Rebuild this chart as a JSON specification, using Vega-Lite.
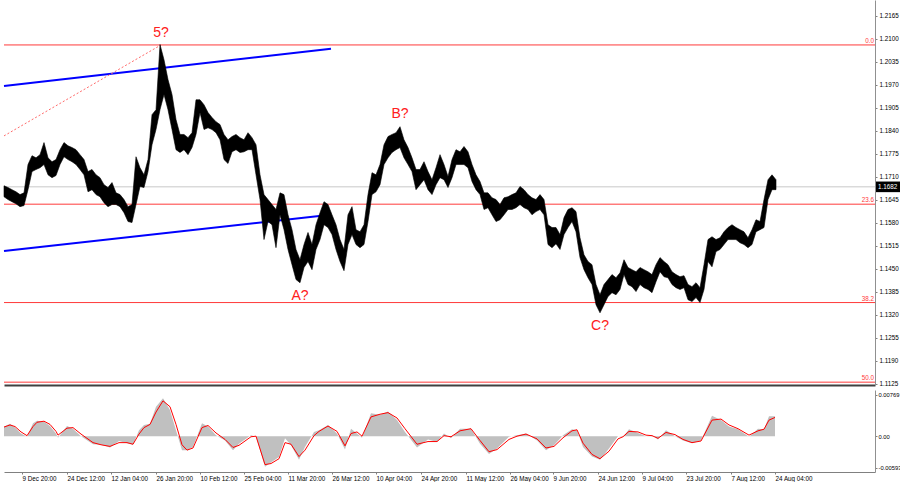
{
"$schema": "https://vega.github.io/schema/vega-lite/v6.json",
"padding": 0,
"background": "white",
"spacing": 2,
"config": {"view": {"stroke": null}, "font": "Liberation Sans",
  "axis": {"labelFont": "Liberation Sans", "labelFontSize": 6.3, "labelColor": "#000000", "domainColor": "#808080", "tickColor": "#808080", "grid": false, "title": null, "tickSize": 2},
  "axisY": {"labelOverlap": false}},
"datasets": {
"price": [
{"i":0,"h":1.1685,"l":1.1654},{"i":4,"h":1.1680,"l":1.1646},{"i":8,"h":1.1674,"l":1.1640},{"i":12,"h":1.1668,"l":1.1634},{"i":16,"h":1.1660,"l":1.1626},{"i":20,"h":1.1665,"l":1.1629},{"i":24,"h":1.1745,"l":1.1674},{"i":28,"h":1.1770,"l":1.1725},{"i":32,"h":1.1764,"l":1.1731},{"i":36,"h":1.1773,"l":1.1736},{"i":40,"h":1.1807,"l":1.1745},{"i":44,"h":1.1764,"l":1.1716},{"i":48,"h":1.1753,"l":1.1708},{"i":52,"h":1.1759,"l":1.1714},{"i":56,"h":1.1787,"l":1.1745},{"i":60,"h":1.1807,"l":1.1767},{"i":64,"h":1.1798,"l":1.1759},{"i":68,"h":1.1793,"l":1.1753},{"i":72,"h":1.1787,"l":1.1745},{"i":76,"h":1.1773,"l":1.1731},{"i":80,"h":1.1759,"l":1.1716},{"i":84,"h":1.1725,"l":1.1668},{"i":88,"h":1.1731,"l":1.1674},{"i":92,"h":1.1716,"l":1.1660},{"i":96,"h":1.1708,"l":1.1654},{"i":100,"h":1.1688,"l":1.1637},{"i":104,"h":1.1680,"l":1.1626},{"i":108,"h":1.1694,"l":1.1632},{"i":112,"h":1.1665,"l":1.1632},{"i":116,"h":1.1660,"l":1.1626},{"i":120,"h":1.1646,"l":1.1609},{"i":124,"h":1.1626,"l":1.1584},{"i":128,"h":1.1632,"l":1.1581},{"i":132,"h":1.1767,"l":1.1632},{"i":136,"h":1.1736,"l":1.1683},{"i":140,"h":1.1716,"l":1.1680},{"i":144,"h":1.1759,"l":1.1725},{"i":148,"h":1.1886,"l":1.1801},{"i":152,"h":1.1900,"l":1.1844},{"i":156,"h":1.2084,"l":1.1900},{"i":160,"h":1.2041,"l":1.1943},{"i":164,"h":1.1985,"l":1.1900},{"i":168,"h":1.1943,"l":1.1844},{"i":172,"h":1.1872,"l":1.1787},{"i":176,"h":1.1830,"l":1.1779},{"i":180,"h":1.1830,"l":1.1787},{"i":184,"h":1.1821,"l":1.1773},{"i":188,"h":1.1835,"l":1.1793},{"i":192,"h":1.1928,"l":1.1830},{"i":196,"h":1.1928,"l":1.1892},{"i":200,"h":1.1914,"l":1.1844},{"i":204,"h":1.1892,"l":1.1849},{"i":208,"h":1.1878,"l":1.1844},{"i":212,"h":1.1866,"l":1.1835},{"i":216,"h":1.1858,"l":1.1815},{"i":220,"h":1.1830,"l":1.1759},{"i":224,"h":1.1815,"l":1.1748},{"i":228,"h":1.1824,"l":1.1781},{"i":232,"h":1.1830,"l":1.1787},{"i":236,"h":1.1821,"l":1.1779},{"i":240,"h":1.1815,"l":1.1781},{"i":244,"h":1.1835,"l":1.1787},{"i":248,"h":1.1821,"l":1.1787},{"i":252,"h":1.1801,"l":1.1716},{"i":256,"h":1.1716,"l":1.1646},{"i":260,"h":1.1660,"l":1.1533},{"i":264,"h":1.1646,"l":1.1584},{"i":268,"h":1.1632,"l":1.1575},{"i":272,"h":1.1618,"l":1.1510},{"i":276,"h":1.1665,"l":1.1603},{"i":280,"h":1.1660,"l":1.1561},{"i":284,"h":1.1603,"l":1.1505},{"i":288,"h":1.1561,"l":1.1462},{"i":292,"h":1.1505,"l":1.1420},{"i":296,"h":1.1476,"l":1.1411},{"i":300,"h":1.1519,"l":1.1454},{"i":304,"h":1.1553,"l":1.1471},{"i":308,"h":1.1519,"l":1.1448},{"i":312,"h":1.1575,"l":1.1505},{"i":316,"h":1.1609,"l":1.1533},{"i":320,"h":1.1640,"l":1.1575},{"i":324,"h":1.1632,"l":1.1567},{"i":328,"h":1.1603,"l":1.1547},{"i":332,"h":1.1575,"l":1.1505},{"i":336,"h":1.1533,"l":1.1471},{"i":340,"h":1.1505,"l":1.1445},{"i":344,"h":1.1603,"l":1.1519},{"i":348,"h":1.1626,"l":1.1547},{"i":352,"h":1.1561,"l":1.1519},{"i":356,"h":1.1555,"l":1.1510},{"i":360,"h":1.1575,"l":1.1519},{"i":364,"h":1.1660,"l":1.1584},{"i":368,"h":1.1722,"l":1.1660},{"i":372,"h":1.1716,"l":1.1668},{"i":376,"h":1.1745,"l":1.1688},{"i":380,"h":1.1801,"l":1.1745},{"i":384,"h":1.1824,"l":1.1764},{"i":388,"h":1.1830,"l":1.1779},{"i":392,"h":1.1835,"l":1.1787},{"i":396,"h":1.1852,"l":1.1793},{"i":400,"h":1.1815,"l":1.1764},{"i":404,"h":1.1793,"l":1.1745},{"i":408,"h":1.1764,"l":1.1725},{"i":412,"h":1.1731,"l":1.1674},{"i":416,"h":1.1731,"l":1.1688},{"i":420,"h":1.1753,"l":1.1702},{"i":424,"h":1.1725,"l":1.1674},{"i":428,"h":1.1702,"l":1.1660},{"i":432,"h":1.1736,"l":1.1688},{"i":436,"h":1.1773,"l":1.1708},{"i":440,"h":1.1745,"l":1.1702},{"i":444,"h":1.1711,"l":1.1680},{"i":448,"h":1.1759,"l":1.1708},{"i":452,"h":1.1787,"l":1.1745},{"i":456,"h":1.1781,"l":1.1745},{"i":460,"h":1.1796,"l":1.1745},{"i":464,"h":1.1781,"l":1.1736},{"i":468,"h":1.1745,"l":1.1697},{"i":472,"h":1.1716,"l":1.1674},{"i":476,"h":1.1697,"l":1.1660},{"i":480,"h":1.1665,"l":1.1618},{"i":484,"h":1.1665,"l":1.1623},{"i":488,"h":1.1651,"l":1.1603},{"i":492,"h":1.1646,"l":1.1584},{"i":496,"h":1.1632,"l":1.1589},{"i":500,"h":1.1651,"l":1.1603},{"i":504,"h":1.1654,"l":1.1618},{"i":508,"h":1.1660,"l":1.1618},{"i":512,"h":1.1665,"l":1.1623},{"i":516,"h":1.1683,"l":1.1632},{"i":520,"h":1.1674,"l":1.1623},{"i":524,"h":1.1660,"l":1.1618},{"i":528,"h":1.1651,"l":1.1603},{"i":532,"h":1.1646,"l":1.1612},{"i":536,"h":1.1660,"l":1.1618},{"i":540,"h":1.1646,"l":1.1603},{"i":544,"h":1.1575,"l":1.1519},{"i":548,"h":1.1567,"l":1.1510},{"i":552,"h":1.1567,"l":1.1521},{"i":556,"h":1.1547,"l":1.1505},{"i":560,"h":1.1595,"l":1.1547},{"i":564,"h":1.1618,"l":1.1567},{"i":568,"h":1.1623,"l":1.1584},{"i":572,"h":1.1612,"l":1.1555},{"i":576,"h":1.1538,"l":1.1482},{"i":580,"h":1.1490,"l":1.1448},{"i":584,"h":1.1471,"l":1.1425},{"i":588,"h":1.1462,"l":1.1406},{"i":592,"h":1.1406,"l":1.1349},{"i":596,"h":1.1377,"l":1.1326},{"i":600,"h":1.1406,"l":1.1349},{"i":604,"h":1.1420,"l":1.1372},{"i":608,"h":1.1434,"l":1.1383},{"i":612,"h":1.1425,"l":1.1377},{"i":616,"h":1.1439,"l":1.1392},{"i":620,"h":1.1476,"l":1.1434},{"i":624,"h":1.1454,"l":1.1406},{"i":628,"h":1.1448,"l":1.1400},{"i":632,"h":1.1442,"l":1.1386},{"i":636,"h":1.1454,"l":1.1406},{"i":640,"h":1.1448,"l":1.1397},{"i":644,"h":1.1442,"l":1.1392},{"i":648,"h":1.1434,"l":1.1383},{"i":652,"h":1.1462,"l":1.1414},{"i":656,"h":1.1482,"l":1.1442},{"i":660,"h":1.1471,"l":1.1428},{"i":664,"h":1.1462,"l":1.1425},{"i":668,"h":1.1442,"l":1.1406},{"i":672,"h":1.1434,"l":1.1397},{"i":676,"h":1.1428,"l":1.1392},{"i":680,"h":1.1431,"l":1.1397},{"i":684,"h":1.1406,"l":1.1363},{"i":688,"h":1.1400,"l":1.1358},{"i":692,"h":1.1411,"l":1.1369},{"i":696,"h":1.1397,"l":1.1355},{"i":700,"h":1.1462,"l":1.1392},{"i":704,"h":1.1533,"l":1.1471},{"i":708,"h":1.1541,"l":1.1456},{"i":712,"h":1.1533,"l":1.1499},{"i":716,"h":1.1538,"l":1.1505},{"i":720,"h":1.1555,"l":1.1519},{"i":724,"h":1.1567,"l":1.1533},{"i":728,"h":1.1575,"l":1.1533},{"i":732,"h":1.1567,"l":1.1533},{"i":736,"h":1.1561,"l":1.1524},{"i":740,"h":1.1555,"l":1.1519},{"i":744,"h":1.1538,"l":1.1510},{"i":748,"h":1.1561,"l":1.1519},{"i":752,"h":1.1589,"l":1.1555},{"i":756,"h":1.1584,"l":1.1561},{"i":760,"h":1.1646,"l":1.1567},{"i":764,"h":1.1702,"l":1.1646},{"i":768,"h":1.1716,"l":1.1674},{"i":772,"h":1.1702,"l":1.1674}
],
"osc": [
{"i":0,"o":0.0018,"s":0.0017},{"i":6,"o":0.0023,"s":0.0021},{"i":11,"o":0.0016,"s":0.0018},{"i":17,"o":0.0005,"s":0.0008},{"i":23,"o":-0.0001,"s":0.0001},{"i":29,"o":0.0024,"s":0.0018},{"i":33,"o":0.0029,"s":0.0026},{"i":40,"o":0.0027,"s":0.0028},{"i":46,"o":0.0019,"s":0.0022},{"i":52,"o":0.0005,"s":0.0009},{"i":54,"o":-0.0003,"s":0.0002},{"i":63,"o":0.0019,"s":0.0015},{"i":69,"o":0.0014,"s":0.0016},{"i":77,"o":0.0000,"s":0.0004},{"i":89,"o":-0.0015,"s":-0.0012},{"i":97,"o":-0.0016,"s":-0.0016},{"i":106,"o":-0.0021,"s":-0.0019},{"i":115,"o":-0.0009,"s":-0.0012},{"i":123,"o":-0.0013,"s":-0.0012},{"i":129,"o":-0.0016,"s":-0.0015},{"i":135,"o":0.0011,"s":0.0004},{"i":140,"o":0.0021,"s":0.0016},{"i":146,"o":0.0023,"s":0.0022},{"i":152,"o":0.0055,"s":0.0045},{"i":159,"o":0.0071,"s":0.0066},{"i":166,"o":0.0049,"s":0.0055},{"i":172,"o":0.0011,"s":0.0022},{"i":178,"o":-0.0026,"s":-0.0016},{"i":183,"o":-0.0026,"s":-0.0026},{"i":189,"o":-0.0020,"s":-0.0022},{"i":198,"o":0.0024,"s":0.0016},{"i":204,"o":0.0018,"s":0.0020},{"i":212,"o":0.0002,"s":0.0006},{"i":221,"o":-0.0008,"s":-0.0006},{"i":229,"o":-0.0026,"s":-0.0021},{"i":235,"o":-0.0014,"s":-0.0017},{"i":247,"o":0.0002,"s":-0.0001},{"i":252,"o":-0.0001,"s":0.0000},{"i":261,"o":-0.0057,"s":-0.0053},{"i":267,"o":-0.0049,"s":-0.0051},{"i":275,"o":-0.0039,"s":-0.0042},{"i":281,"o":-0.0004,"s":-0.0012},{"i":287,"o":-0.0017,"s":-0.0015},{"i":295,"o":-0.0044,"s":-0.0038},{"i":301,"o":-0.0020,"s":-0.0026},{"i":310,"o":0.0008,"s":0.0001},{"i":315,"o":0.0011,"s":0.0009},{"i":324,"o":0.0021,"s":0.0019},{"i":333,"o":0.0005,"s":0.0009},{"i":341,"o":-0.0025,"s":-0.0018},{"i":347,"o":0.0014,"s":0.0005},{"i":353,"o":0.0005,"s":0.0008},{"i":358,"o":-0.0003,"s":0.0000},{"i":367,"o":0.0043,"s":0.0036},{"i":376,"o":0.0040,"s":0.0041},{"i":384,"o":0.0046,"s":0.0044},{"i":393,"o":0.0030,"s":0.0034},{"i":401,"o":0.0008,"s":0.0014},{"i":413,"o":-0.0021,"s":-0.0015},{"i":424,"o":-0.0006,"s":-0.0010},{"i":433,"o":-0.0011,"s":-0.0010},{"i":440,"o":0.0005,"s":0.0001},{"i":447,"o":-0.0004,"s":-0.0001},{"i":456,"o":0.0014,"s":0.0010},{"i":467,"o":0.0014,"s":0.0014},{"i":476,"o":-0.0014,"s":-0.0008},{"i":485,"o":-0.0033,"s":-0.0029},{"i":493,"o":-0.0023,"s":-0.0025},{"i":505,"o":-0.0001,"s":-0.0006},{"i":513,"o":0.0002,"s":0.0000},{"i":522,"o":0.0005,"s":0.0004},{"i":533,"o":-0.0008,"s":-0.0005},{"i":542,"o":-0.0026,"s":-0.0022},{"i":550,"o":-0.0017,"s":-0.0019},{"i":559,"o":0.0002,"s":-0.0003},{"i":568,"o":0.0013,"s":0.0010},{"i":573,"o":0.0011,"s":0.0012},{"i":579,"o":-0.0020,"s":-0.0013},{"i":588,"o":-0.0038,"s":-0.0034},{"i":596,"o":-0.0044,"s":-0.0042},{"i":605,"o":-0.0023,"s":-0.0028},{"i":614,"o":0.0000,"s":-0.0005},{"i":619,"o":-0.0001,"s":-0.0001},{"i":625,"o":0.0013,"s":0.0009},{"i":634,"o":0.0006,"s":0.0008},{"i":642,"o":0.0000,"s":0.0002},{"i":648,"o":0.0002,"s":0.0001},{"i":654,"o":-0.0006,"s":-0.0004},{"i":662,"o":0.0011,"s":0.0007},{"i":671,"o":0.0000,"s":0.0003},{"i":679,"o":-0.0008,"s":-0.0006},{"i":688,"o":-0.0013,"s":-0.0012},{"i":697,"o":-0.0008,"s":-0.0009},{"i":708,"o":0.0038,"s":0.0030},{"i":717,"o":0.0030,"s":0.0032},{"i":725,"o":0.0018,"s":0.0021},{"i":734,"o":0.0013,"s":0.0014},{"i":745,"o":-0.0001,"s":0.0002},{"i":754,"o":0.0014,"s":0.0010},{"i":760,"o":0.0013,"s":0.0013},{"i":765,"o":0.0037,"s":0.0030},{"i":771,"o":0.0037,"s":0.0035}
],
"fib": [{"lab":"0.0","p":1.2083},{"lab":"23.6","p":1.1633},{"lab":"38.2","p":1.1355},{"lab":"50.0","p":1.1130}],
"chan": [{"s":"u","i":0,"p":1.1967},{"s":"u","i":327,"p":1.2072},{"s":"d","i":0,"p":1.1501},{"s":"d","i":322,"p":1.1602},{"s":"r","i":0,"p":1.1826},{"s":"r","i":157,"p":1.2083}],
"waves": [{"t":"5?","i":157,"p":1.2117},{"t":"B?","i":396,"p":1.1888},{"t":"A?","i":296,"p":1.1374},{"t":"C?","i":596,"p":1.1289}],
"cur": [{"p":1.1682,"lab":"1.1682","x0":872,"x1":899,"ptop":1.1697,"pbot":1.1667}]
},
"vconcat": [
{
 "width": 871, "height": 385,
 "encoding": {
   "y": {"type": "quantitative", "scale": {"domain": [1.1122, 1.2210], "nice": false, "zero": false},
     "axis": {"orient": "right", "values": [1.1125,1.1190,1.1255,1.1320,1.1385,1.1450,1.1515,1.1580,1.1645,1.1710,1.1775,1.1840,1.1905,1.1970,1.2035,1.2100,1.2165], "format": ".4f", "labelPadding": 2, "labelOverlap": false, "labelSeparation": 0, "domainColor": "#909090", "domainWidth": 1}}
 },
 "layer": [
  {"data": {"name": "cur"}, "mark": {"type": "rule", "color": "#c8c8c8", "strokeWidth": 1},
   "encoding": {"y": {"field": "p", "type": "quantitative"}}},
  {"data": {"name": "fib"}, "mark": {"type": "rule", "color": "#ff3a3a", "strokeWidth": 1},
   "encoding": {"y": {"field": "p", "type": "quantitative"}}},
  {"data": {"name": "fib"}, "mark": {"type": "text", "color": "#ff3a3a", "fontSize": 6.3, "align": "right", "baseline": "bottom", "dx": -1, "dy": -1},
   "encoding": {"x": {"value": "width"}, "y": {"field": "p", "type": "quantitative"}, "text": {"field": "lab"}}},
  {"data": {"name": "chan"}, "transform": [{"filter": "datum.s != 'r'"}], "mark": {"type": "line", "color": "#0000ff", "strokeWidth": 2},
   "encoding": {"x": {"field": "i", "type": "quantitative"}, "y": {"field": "p", "type": "quantitative"}, "detail": {"field": "s"}}},
  {"data": {"name": "chan"}, "transform": [{"filter": "datum.s == 'r'"}], "mark": {"type": "line", "color": "#ff6a6a", "strokeWidth": 1, "strokeDash": [2, 2]},
   "encoding": {"x": {"field": "i", "type": "quantitative"}, "y": {"field": "p", "type": "quantitative"}}},
  {"data": {"name": "price"}, "mark": {"type": "area", "color": "#000000", "stroke": "#000000", "strokeWidth": 0.6, "opacity": 1},
   "encoding": {"x": {"field": "i", "type": "quantitative", "scale": {"domain": [0, 871], "nice": false, "zero": false},
     "axis": {"orient": "bottom", "labels": false, "ticks": false, "domainColor": "#404040", "domainWidth": 2}},
    "y": {"field": "h", "type": "quantitative"}, "y2": {"field": "l"}}},
  {"data": {"name": "waves"}, "mark": {"type": "text", "color": "#ff2020", "fontSize": 14, "font": "Liberation Sans", "align": "center", "baseline": "middle"},
   "encoding": {"x": {"field": "i", "type": "quantitative"}, "y": {"field": "p", "type": "quantitative"}, "text": {"field": "t"}}},
  {"data": {"name": "cur"}, "mark": {"type": "rect", "color": "#000000"},
   "encoding": {"x": {"field": "x0", "type": "quantitative"}, "x2": {"field": "x1"}, "y": {"field": "ptop", "type": "quantitative"}, "y2": {"field": "pbot"}}},
  {"data": {"name": "cur"}, "mark": {"type": "text", "color": "#ffffff", "fontSize": 6.3, "align": "left", "baseline": "middle", "dx": 2},
   "encoding": {"x": {"field": "x0", "type": "quantitative"}, "y": {"field": "p", "type": "quantitative"}, "text": {"field": "lab"}}}
 ]
},
{
 "width": 871, "height": 82,
 "data": {"name": "osc"},
 "layer": [
  {"mark": {"type": "area", "color": "#c0c0c0", "opacity": 1},
   "encoding": {"x": {"field": "i", "type": "quantitative", "scale": {"domain": [0, 871], "nice": false, "zero": false},
     "axis": {"orient": "bottom", "values": [18,63,107,152,196,240,284,328,372,417,462,506,549,594,638,682,727,771],
      "labelExpr": "['9 Dec 20:00','24 Dec 12:00','12 Jan 04:00','26 Jan 20:00','10 Feb 12:00','25 Feb 04:00','11 Mar 20:00','26 Mar 12:00','10 Apr 04:00','24 Apr 20:00','11 May 12:00','26 May 04:00','9 Jun 20:00','24 Jun 12:00','9 Jul 04:00','23 Jul 20:00','7 Aug 12:00','24 Aug 04:00'][indexof([18,63,107,152,196,240,284,328,372,417,462,506,549,594,638,682,727,771], datum.value)]",
      "labelAlign": "left", "labelPadding": 1, "labelOverlap": false, "labelBound": false, "labelFlush": false, "domainColor": "#808080"}},
    "y": {"field": "o", "type": "quantitative", "scale": {"domain": [-0.00668, 0.00862], "nice": false, "zero": false},
     "axis": {"orient": "right", "values": [0.00769, 0, -0.00593], "labelExpr": "datum.value > 0.005 ? '0.00769' : (datum.value < -0.005 ? '-0.00593' : '0.00')", "labelPadding": 1, "labelFontSize": 5.8, "labelOverlap": false, "domainColor": "#909090"}},
    "y2": {"datum": 0}}},
  {"mark": {"type": "line", "color": "#ff0000", "strokeWidth": 1},
   "encoding": {"x": {"field": "i", "type": "quantitative"}, "y": {"field": "s", "type": "quantitative"}}}
 ]
}
]
}
